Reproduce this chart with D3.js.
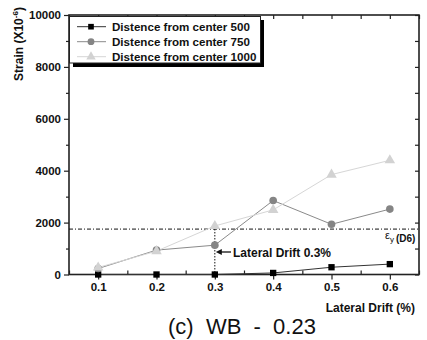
<!DOCTYPE html>
<html><head><meta charset="utf-8">
<script src="https://cdn.jsdelivr.net/npm/d3@7"></script>
<style>body{margin:0;background:#fff}svg{display:block}text{font-family:Arial,"Liberation Sans",sans-serif}</style>
</head><body>
<svg id="c" width="427" height="340"></svg>
<script>
const drift = [0.1, 0.2, 0.3, 0.4, 0.5, 0.6];
const s500 = [0, 0, 0, 60, 280, 400];
const s750 = [230, 940, 1130, 2850, 1935, 2520];
const s1000 = [270, 900, 1870, 2490, 3850, 4400];
const seriesNames = ["Distence from center 500", "Distence from center 750", "Distence from center 1000"];
const xTicks = [0.1, 0.2, 0.3, 0.4, 0.5, 0.6];
const yTicks = [0, 2000, 4000, 6000, 8000, 10000];
const yieldStrain = 1750;
const markDrift = 0.3;

const svg = d3.select("#c");
const x = d3.scaleLinear().domain([0.05, 0.65]).range([69, 419]);
const y = d3.scaleLinear().domain([0, 10000]).range([274.5, 15]);

const series = [
  {name: seriesNames[0], vals: s500, line: "#333", fill: "#000", sym: d3.symbolSquare, size: 40},
  {name: seriesNames[1], vals: s750, line: "#8a8a8a", fill: "#858585", sym: d3.symbolCircle, size: 46},
  {name: seriesNames[2], vals: s1000, line: "#d6d6d6", fill: "#d2d2d2", sym: d3.symbolTriangle, size: 48}
];

// axes
const fmtX = d3.format(".1f");
svg.append("g").attr("transform", `translate(0,${y(0)})`)
  .call(d3.axisBottom(x).tickValues(xTicks).tickFormat(fmtX).tickSize(5).tickPadding(3));
svg.append("g").attr("transform", `translate(0,${y(0)})`)
  .call(d3.axisTop(x).tickValues([0.05,0.15,0.25,0.35,0.45,0.55,0.65]).tickFormat("").tickSize(4));
svg.append("g").attr("transform", `translate(${x(0.05)},0)`)
  .call(d3.axisLeft(y).tickValues(yTicks).tickFormat(d3.format("d")).tickSize(5).tickPadding(3));
svg.append("g").attr("transform", `translate(${x(0.05)},0)`)
  .call(d3.axisLeft(y).tickValues([1000,3000,5000,7000,9000]).tickFormat("").tickSize(3));
svg.append("g").attr("transform", `translate(0,${y(10000)})`)
  .call(d3.axisBottom(x).tickValues(d3.range(0.05,0.66,0.05)).tickFormat("").tickSize(4));
svg.append("g").attr("transform", `translate(${x(0.65)},0)`)
  .call(d3.axisLeft(y).tickValues(d3.range(0,10001,1000)).tickFormat("").tickSize(4));
svg.selectAll(".tick line").attr("stroke", "#222").attr("stroke-width", 1.2);
svg.selectAll(".domain").remove();
svg.selectAll(".tick text").attr("font-size", 11.5).attr("font-weight", "bold").attr("fill", "#111")
  .attr("font-family", "Arial, 'Liberation Sans', sans-serif");

// frame
svg.append("rect").attr("x", x(0.05)).attr("y", y(10000)).attr("width", x(0.65)-x(0.05)).attr("height", y(0)-y(10000))
  .attr("fill", "none").attr("stroke", "#222").attr("stroke-width", 1.6);

// yield line
svg.append("line").attr("x1", x(0.05)).attr("x2", x(0.65)).attr("y1", y(yieldStrain)).attr("y2", y(yieldStrain))
  .attr("stroke", "#111").attr("stroke-width", 1).attr("stroke-dasharray", "4,2,1,2");
const eps = svg.append("text").attr("x", 385).attr("y", 239).attr("font-size", 11).attr("fill", "#111");
eps.append("tspan").text("ε");
eps.append("tspan").attr("font-size", 8).attr("dy", 3).text("y");
eps.append("tspan").attr("font-size", 10).attr("font-weight", "bold").attr("dy", 0).attr("dx", 2).text("(D6)");

// vertical dotted at 0.3
const i3 = drift.indexOf(markDrift);
svg.append("line").attr("x1", x(markDrift)).attr("x2", x(markDrift)).attr("y1", y(s1000[i3])).attr("y2", y(0))
  .attr("stroke", "#111").attr("stroke-width", 1).attr("stroke-dasharray", "1.5,1.5");

// series
const line = d3.line().x((d,i) => x(drift[i])).y(d => y(d));
series.forEach(s => {
  svg.append("path").datum(s.vals).attr("d", line).attr("fill", "none").attr("stroke", s.line).attr("stroke-width", 1);
});
series.forEach(s => {
  svg.append("g").selectAll("path").data(s.vals).join("path")
    .attr("transform", (d,i) => `translate(${x(drift[i])},${y(d)})`)
    .attr("d", d3.symbol().type(s.sym).size(s.size)).attr("fill", s.fill);
});

// annotation arrow
const ay = 252;
svg.append("line").attr("x1", 231).attr("x2", x(markDrift)+4).attr("y1", ay).attr("y2", ay).attr("stroke", "#111").attr("stroke-width", 1.3);
svg.append("path").attr("d", `M${x(markDrift)+1},${ay} l6,-3 l0,6 z`).attr("fill", "#111");
svg.append("text").attr("x", 233).attr("y", ay+4.5).attr("font-size", 12).attr("font-weight", "bold").attr("fill", "#111")
  .text("Lateral Drift " + markDrift + "%");

// legend
svg.append("rect").attr("x", 73).attr("y", 20).attr("width", 191).attr("height", 47).attr("fill", "#000");
svg.append("rect").attr("x", 69.5).attr("y", 16.5).attr("width", 191).attr("height", 46.5).attr("fill", "#fff").attr("stroke", "#222").attr("stroke-width", 1);
series.forEach((s, i) => {
  const cy = 26.7 + i * 15;
  svg.append("line").attr("x1", 77).attr("x2", 106).attr("y1", cy).attr("y2", cy).attr("stroke", s.line).attr("stroke-width", 1);
  svg.append("path").attr("transform", `translate(91,${cy})`).attr("d", d3.symbol().type(s.sym).size(s.size*0.8)).attr("fill", s.fill);
  svg.append("text").attr("x", 112).attr("y", cy + 4.5).attr("font-size", 11.6).attr("font-weight", "bold").attr("fill", "#111").text(s.name);
});

// axis titles
const yt = svg.append("text").attr("transform", "translate(23,44) rotate(-90)").attr("text-anchor", "middle")
  .attr("font-size", 12).attr("font-weight", "bold").attr("fill", "#111");
yt.append("tspan").text("Strain (X10");
yt.append("tspan").attr("font-size", 8).attr("dy", -5).text("-6");
yt.append("tspan").attr("dy", 5).text(")");
svg.append("text").attr("x", 415).attr("y", 312).attr("text-anchor", "end").attr("font-size", 12).attr("font-weight", "bold").attr("fill", "#111")
  .text("Lateral Drift (%)");
svg.append("text").attr("x", 242).attr("y", 334).attr("text-anchor", "middle").attr("font-size", 22).attr("fill", "#111")
  .style("white-space", "pre").text("(c)  WB  -  0.23");
</script>
</body></html>
